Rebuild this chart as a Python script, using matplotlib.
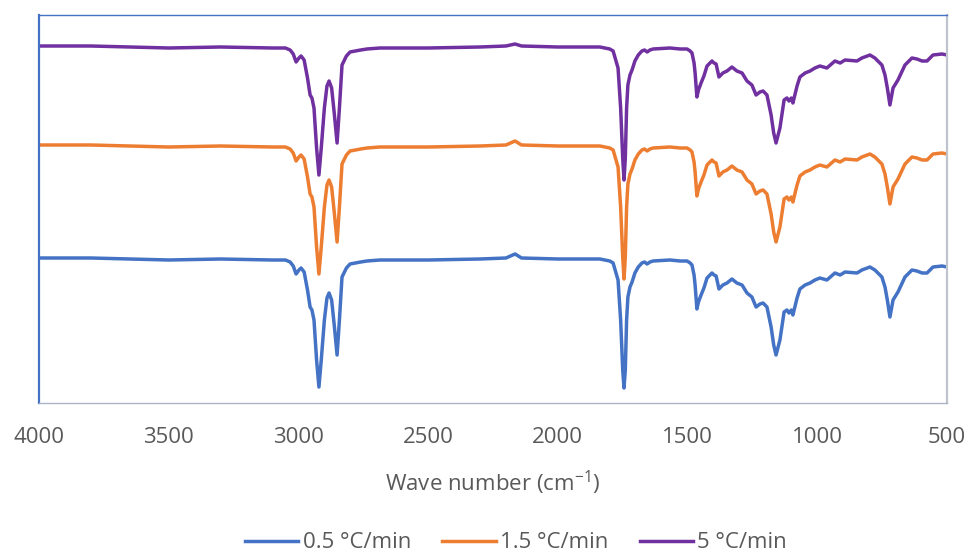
import matplotlib
matplotlib.use("Agg")
import matplotlib.pyplot as plt

plt.rcParams['font.family'] = ['Open Sans', 'DejaVu Sans']
plt.rcParams['mathtext.default'] = 'regular'

# wave numbers (cm-1) and offset transmittance traces
wavenumber = [4000, 3800, 3500, 3300, 3100, 3050, 3032, 3020, 3009, 2998,
              2990, 2978, 2965, 2955, 2948, 2940, 2930, 2921, 2912, 2900,
              2890, 2882, 2872, 2862, 2851, 2842, 2832, 2815, 2801, 2760,
              2736, 2686, 2500, 2300, 2200, 2165, 2140, 2000, 1900, 1838,
              1800, 1787, 1768, 1758, 1750, 1745, 1740, 1735, 1730, 1722,
              1714, 1703, 1690, 1676, 1666, 1656, 1645, 1633, 1568, 1529,
              1502, 1490, 1483, 1475, 1471, 1464, 1458, 1448, 1437, 1425,
              1406, 1398, 1390, 1379, 1364, 1348, 1329, 1310, 1290, 1271,
              1252, 1236, 1221, 1209, 1194, 1178, 1168, 1159, 1144, 1128,
              1117, 1109, 1100, 1094, 1078, 1067, 1047, 1028, 1009, 990,
              963, 932, 912, 893, 847, 828, 797, 778, 751, 739,
              730, 720, 708, 689, 662, 635, 616, 596, 577, 554,
              519, 500]

rate_05 = [145, 145, 143, 144, 143, 143, 141, 137, 129, 133,
           135, 131, 113, 96, 93, 83, 43, 16, 43, 83,
           105, 110, 103, 78, 48, 83, 126, 135, 139, 141,
           142, 143, 143, 144, 145, 149, 145, 144, 144, 144,
           142, 140, 123, 83, 33, 15, 33, 83, 106, 116,
           121, 130, 136, 140, 141, 139, 141, 142, 143, 142,
           142, 140, 138, 128, 118, 94, 101, 108, 115, 125,
           130, 128, 127, 114, 118, 120, 124, 120, 118, 110,
           106, 96, 99, 100, 96, 76, 58, 48, 63, 91,
           93, 90, 93, 88, 105, 114, 118, 120, 123, 125,
           123, 130, 128, 131, 130, 133, 136, 133, 126, 116,
           103, 86, 103, 111, 126, 133, 132, 130, 130, 136,
           137, 136]

rate_15 = [258, 258, 256, 257, 256, 256, 254, 250, 242, 246,
           248, 244, 226, 209, 206, 196, 156, 129, 156, 196,
           218, 223, 216, 191, 161, 196, 239, 248, 252, 254,
           255, 256, 256, 257, 258, 262, 258, 257, 257, 257,
           255, 253, 236, 196, 146, 124, 146, 196, 219, 229,
           234, 243, 249, 253, 254, 252, 254, 255, 256, 255,
           255, 253, 251, 241, 231, 207, 214, 221, 228, 238,
           243, 241, 240, 227, 231, 233, 237, 233, 231, 223,
           219, 209, 212, 213, 209, 189, 171, 161, 176, 204,
           206, 203, 206, 201, 218, 227, 231, 233, 236, 238,
           236, 243, 241, 244, 243, 246, 249, 246, 239, 229,
           216, 199, 216, 224, 239, 246, 245, 243, 243, 249,
           250, 249]

rate_5 = [357, 357, 355, 356, 355, 355, 353, 349, 341, 345,
          347, 343, 325, 308, 305, 295, 255, 228, 255, 295,
          317, 322, 315, 290, 260, 295, 338, 347, 351, 353,
          354, 355, 355, 356, 357, 359, 357, 356, 356, 356,
          354, 352, 335, 295, 245, 223, 245, 295, 318, 328,
          333, 342, 348, 352, 353, 351, 353, 354, 355, 354,
          354, 352, 350, 340, 330, 306, 313, 320, 327, 337,
          342, 340, 339, 326, 330, 332, 336, 332, 330, 322,
          318, 308, 311, 312, 308, 288, 270, 260, 275, 303,
          305, 302, 305, 300, 317, 326, 330, 332, 335, 337,
          335, 342, 340, 343, 342, 345, 348, 345, 338, 328,
          315, 298, 315, 323, 338, 345, 344, 342, 342, 348,
          349, 348]

labels = ['0.5 °C/min', '1.5 °C/min', '5 °C/min']
colors = ['#4472C4', '#ED7D31', '#7030A0']
text_color = '#595959'

fig = plt.figure(figsize=(9.69, 5.55), dpi=100)
ax = fig.add_axes([39 / 969, 1 - 403 / 555, 908 / 969, 388 / 555])

for values, label, color in zip([rate_05, rate_15, rate_5], labels, colors):
    ax.plot(wavenumber, values, color=color, linewidth=2.5, label=label,
            solid_joinstyle='round')

ax.set_xlim(4000, 500)
ax.set_ylim(0, 388)
ax.set_xticks([4000, 3500, 3000, 2500, 2000, 1500, 1000, 500])
ax.set_yticks([])
ax.tick_params(axis='x', length=0, pad=17, labelsize=16, labelcolor=text_color)

ax.spines['left'].set_color('#4472C4')
ax.spines['left'].set_linewidth(1.6)
ax.spines['top'].set_color('#4472C4')
ax.spines['top'].set_linewidth(1.0)
ax.spines['right'].set_color('#BFC4CC')
ax.spines['right'].set_linewidth(1.6)
ax.spines['bottom'].set_color('#AAB4C4')
ax.spines['bottom'].set_linewidth(1.0)

ax.set_xlabel('Wave number (cm$^{-1}$)', fontsize=16, color=text_color)
ax.xaxis.set_label_coords(0.5, -0.17)

fig.legend(loc='center', bbox_to_anchor=(516 / 969, 1 - 543 / 555), ncol=3,
           frameon=False, fontsize=16, labelcolor=text_color,
           handlelength=2.4, handletextpad=0.2, columnspacing=1.4)

fig.savefig('out.png', dpi=100)
